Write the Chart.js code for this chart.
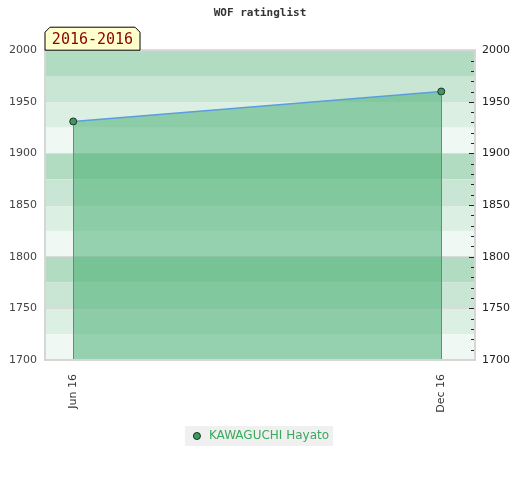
<!DOCTYPE html>
<html>
<head>
<meta charset="utf-8">
<script src="https://cdn.jsdelivr.net/npm/chart.js@4.4.1/dist/chart.umd.min.js"></script>
<style>
html,body{margin:0;padding:0;background:#fff}
#wrap{width:520px;height:480px}
</style>
</head>
<body>
<div id="wrap"><canvas id="ratingChart"></canvas></div>
<script>
// data
const monthIndex = [0, 6]
const monthLabels = ["Jun 16", "Dec 16"]
const ratings = [1931, 1960]
const playerName = "KAWAGUCHI Hayato"
const periodLabel = "2016-2016"

const yMin = 1700
const yMax = 2000
const bandColors = ["#b2dcc1", "#c8e6d3", "#dcefe3", "#eff8f2"]

/* ======================
   PLUGINS
====================== */

const bandsPlugin = {
  id: "bands",
  beforeDraw(chart){
    const c = chart.ctx
    const a = chart.chartArea
    const y = chart.scales.y
    c.save()
    let i = 0
    for(let v = yMax; v > yMin; v -= 25){
      const top = y.getPixelForValue(v)
      const bot = y.getPixelForValue(v - 25)
      c.fillStyle = bandColors[i % 4]
      c.fillRect(a.left, top, a.right - a.left, bot - top)
      i++
    }
    // legend background
    const hb = chart.legend.legendHitBoxes[0]
    if(hb){
      c.fillStyle = "#f0f0f0"
      c.fillRect(hb.left - 6, hb.top - 4, hb.width + 10, hb.height + 8)
    }
    c.restore()
  },
  afterDatasetsDraw(chart){
    const c = chart.ctx
    const a = chart.chartArea
    const meta = chart.getDatasetMeta(0)
    c.save()
    // drop lines
    c.strokeStyle = "#3aa860"
    c.lineWidth = 1
    meta.data.forEach(p=>{
      const x = Math.round(p.x) + 0.5
      c.beginPath()
      c.moveTo(x, p.y + 4)
      c.lineTo(x, a.bottom)
      c.stroke()
    })
    // right minor ticks
    const y = chart.scales.y
    c.strokeStyle = "#222"
    for(let v = yMin + 10; v < yMax; v += 10){
      const py = Math.round(y.getPixelForValue(v)) + 0.5
      const len = v % 50 === 0 ? 6 : 4
      c.beginPath()
      c.moveTo(a.right - len, py)
      c.lineTo(a.right, py)
      c.stroke()
    }
    // plot border
    c.strokeStyle = "#d6d6d6"
    c.lineWidth = 2
    c.strokeRect(a.left, a.top, a.right - a.left, a.bottom - a.top)
    c.restore()
  },
  afterDraw(chart){
    const c = chart.ctx
    const a = chart.chartArea
    const l = a.left, r = l + 95, t = a.top - 23, b = a.top
    c.save()
    c.beginPath()
    c.moveTo(l, b)
    c.lineTo(l, t + 5)
    c.lineTo(l + 5, t)
    c.lineTo(r - 5, t)
    c.lineTo(r, t + 5)
    c.lineTo(r, b)
    c.closePath()
    c.fillStyle = "#ffffcc"
    c.fill()
    c.strokeStyle = "#000"
    c.lineWidth = 1
    c.stroke()
    c.fillStyle = "#8b0000"
    c.font = "15px 'DejaVu Sans Mono'"
    c.textAlign = "center"
    c.textBaseline = "middle"
    c.fillText(periodLabel, (l + r) / 2, (t + b) / 2 + 1)
    c.restore()
  }
}

/* ======================
   RATING CHART
====================== */

const ctx = document.getElementById("ratingChart")

const points = monthIndex.map((m, i)=>({x: m, y: ratings[i]}))

new Chart(ctx, {
  type: "line",
  data: {
    datasets: [{
      label: playerName,
      data: points,
      borderColor: "#5b9ee0",
      borderWidth: 1.5,
      backgroundColor: "rgba(60,170,105,0.5)",
      fill: "start",
      tension: 0,
      pointRadius: 3.5,
      pointBackgroundColor: "#3b9b5e",
      pointBorderColor: "#1d3326",
      pointBorderWidth: 1
    }]
  },
  options: {
    responsive: true,
    maintainAspectRatio: false,
    animation: false,
    layout: { padding: { top: 0, bottom: 28, left: 0, right: 0 } },
    plugins: {
      title: {
        display: true,
        text: "WOF ratinglist",
        color: "#333",
        font: { family: "'DejaVu Sans Mono'", size: 11, weight: "bold" },
        padding: { top: 7, bottom: 30 }
      },
      legend: {
        position: "bottom",
        labels: {
          usePointStyle: true,
          pointStyle: "circle",
          boxWidth: 12,
          boxHeight: 5,
          color: "#3aaa5c",
          font: { family: "'DejaVu Sans'", size: 12 },
          padding: 10
        }
      },
      tooltip: { enabled: false }
    },
    scales: {
      x: {
        type: "linear",
        min: -0.46,
        max: 6.55,
        afterBuildTicks(scale){
          scale.ticks = monthIndex.map(v=>({value: v}))
        },
        afterFit(scale){ scale.height = 60 },
        ticks: {
          autoSkip: false,
          maxRotation: 90,
          minRotation: 90,
          color: "#333",
          font: { family: "'DejaVu Sans'", size: 11 },
          padding: 6,
          callback(v){
            const i = monthIndex.indexOf(v)
            return i >= 0 ? monthLabels[i] : ""
          }
        },
        grid: { display: false },
        border: { display: false }
      },
      y: {
        position: "left",
        min: yMin,
        max: yMax,
        afterFit(scale){ scale.width = 45 },
        ticks: {
          stepSize: 50,
          color: "#444",
          font: { family: "'DejaVu Sans'", size: 11 },
          padding: 8,
          callback(v){ return String(v) }
        },
        grid: { color: "#dadada", drawTicks: false },
        border: { display: false }
      },
      y2: {
        position: "right",
        min: yMin,
        max: yMax,
        afterFit(scale){ scale.width = 45 },
        ticks: {
          stepSize: 50,
          color: "#222",
          font: { family: "'DejaVu Sans'", size: 11 },
          padding: 7,
          callback(v){ return String(v) }
        },
        grid: { display: false, drawTicks: false },
        border: { display: false }
      }
    }
  },
  plugins: [bandsPlugin]
})
</script>
</body>
</html>
